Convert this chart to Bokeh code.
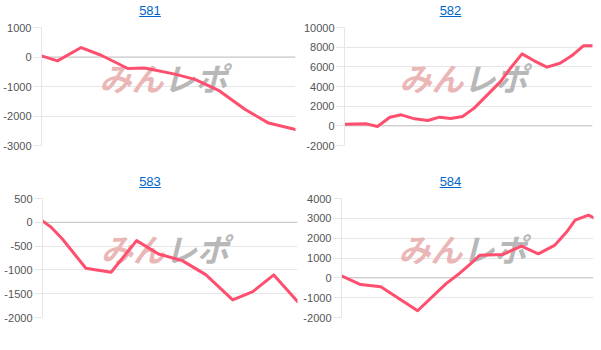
from bokeh.plotting import figure
from bokeh.layouts import column, row
from bokeh.models import Div, Range1d, FixedTicker, Span
from bokeh.core.properties import value
from bokeh.embed import file_html
from bokeh.resources import INLINE

# ---------------- data ----------------
titles = ["581", "582", "583", "584"]

x581 = [0, 6.3, 15.6, 23.5, 34.0, 40.6, 52.5, 60.4, 69.7, 80.2, 89.4, 100]
y581 = [40, -130, 320, 60, -390, -370, -580, -760, -1130, -1780, -2240, -2460]

x582 = [0, 8.9, 13.3, 18.3, 22.9, 28.3, 33.6, 38.3, 42.9, 47.6, 52.3, 57.6, 62.9,
        66.9, 71.6, 76.3, 81.6, 86.9, 91.6, 96.3, 100]
y582 = [170, 200, -70, 880, 1120, 710, 540, 880, 750, 950, 1800, 3150, 4500,
        5860, 7320, 6640, 5970, 6370, 7120, 8140, 8140]

x583 = [0, 3.4, 7.8, 17.0, 26.9, 36.9, 45.5, 54.8, 64.0, 74.6, 82.5, 90.7, 100]
y583 = [30, -105, -350, -965, -1050, -385, -665, -805, -1100, -1630, -1455, -1105, -1665]

x584 = [0, 7.6, 15.6, 30.2, 41.5, 46.8, 52.1, 54.8, 64.1, 71.4, 78.1, 84.7, 89.4,
        92.7, 98.0, 100]
y584 = [100, -340, -450, -1660, -290, 220, 810, 1140, 1180, 1600, 1210, 1650, 2320,
        2910, 3160, 3030]

ticks581 = [-3000, -2000, -1000, 0, 1000]
ticks582 = [-2000, 0, 2000, 4000, 6000, 8000, 10000]
ticks583 = [-2000, -1500, -1000, -500, 0, 500]
ticks584 = [-2000, -1000, 0, 1000, 2000, 3000, 4000]

wm_left = "みん"
wm_right = "レポ"

# ---------------- styling ----------------
LINE_COLOR = "#ff4f6e"
GRID_COLOR = "#e6e6e6"
ZERO_COLOR = "#c4c4c4"
LABEL_COLOR = "#555555"
TITLE_COLOR = "#0066cc"


def panel(title, xs, ys, ticks, width, bl, br, bb, fig_h):
    ylo, yhi = ticks[0], ticks[-1]
    p = figure(width=width, height=fig_h, output_backend="svg", toolbar_location=None,
               x_range=Range1d(0, 100), y_range=Range1d(ylo, yhi),
               min_border_left=bl, min_border_right=br, min_border_top=5,
               min_border_bottom=bb)
    p.outline_line_color = None
    p.xaxis.visible = False
    p.xgrid.visible = False
    p.ygrid.grid_line_color = GRID_COLOR
    p.yaxis.ticker = FixedTicker(ticks=ticks)
    p.yaxis.major_label_overrides = {t: str(t) for t in ticks}
    p.yaxis.minor_tick_line_color = None
    p.yaxis.major_tick_in = 0
    p.yaxis.major_tick_out = 8
    p.yaxis.major_tick_line_color = GRID_COLOR
    p.yaxis.axis_line_color = GRID_COLOR
    p.yaxis.major_label_standoff = 2
    p.yaxis.major_label_text_font = "Liberation Sans"
    p.yaxis.major_label_text_font_size = "11px"
    p.yaxis.major_label_text_color = LABEL_COLOR
    p.add_layout(Span(location=0, dimension="width", line_color=ZERO_COLOR, line_width=1,
                      level="underlay"))

    # watermark
    wx = 48
    wy = yhi - 0.42 * (yhi - ylo)
    p.text(x=[wx], y=[wy], text=[wm_left], text_align="right", text_baseline="middle",
           text_font=value("Noto Sans CJK JP"), text_font_style="bold italic",
           text_font_size="32px", text_color="#eab6b6")
    p.text(x=[wx], y=[wy], text=[wm_right], text_align="left", text_baseline="middle",
           text_font=value("Noto Sans CJK JP"), text_font_style="bold italic",
           text_font_size="32px", text_color="#b8b8b8")

    p.line(xs, ys, line_width=3, line_color=LINE_COLOR, line_join="round", line_cap="round")

    d = Div(text=f'<span style="color:{TITLE_COLOR};text-decoration:underline;'
                 f'font-family:\'Liberation Sans\',Arial,sans-serif;font-size:13px">{title}</span>',
            width=width, height=22, margin=(0, 0, 0, 0),
            styles={"text-align": "center", "line-height": "22px", "width": f"{width}px"})
    return column(d, p, spacing=0, margin=(0, 0, 0, 0))


c1 = panel(titles[0], x581, y581, ticks581, 300, 40, 5, 26, 149)
c2 = panel(titles[1], x582, y582, ticks582, 301, 39, 9, 26, 149)
c3 = panel(titles[2], x583, y583, ticks583, 300, 42, 3, 25, 149)
c4 = panel(titles[3], x584, y584, ticks584, 301, 39, 8, 25, 149)

layout = column(row(c1, c2, spacing=0), row(c3, c4, spacing=0), spacing=0)

open("out.html", "w").write(file_html(layout, INLINE))
